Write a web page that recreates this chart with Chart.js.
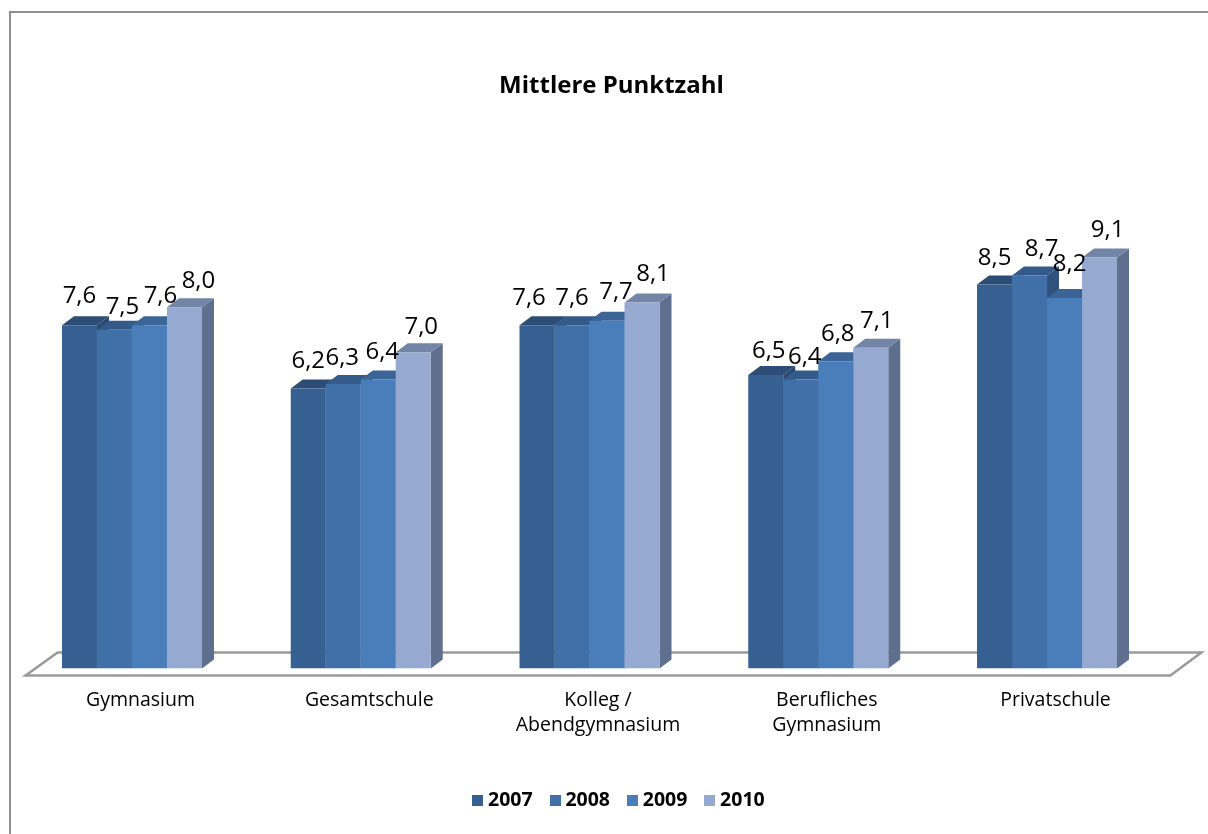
<!DOCTYPE html>
<html>
<head>
<meta charset="utf-8">
<style>html,body{margin:0;padding:0;background:#fff}canvas{display:block}</style>
<script src="https://cdn.jsdelivr.net/npm/chart.js@4"></script>
</head>
<body>
<canvas id="c" width="1208" height="834"></canvas>
<script>
const categories = ['Gymnasium','Gesamtschule',['Kolleg /','Abendgymnasium'],['Berufliches','Gymnasium'],'Privatschule'];
const seriesNames = ['2007','2008','2009','2010'];
const values2007 = [7.6,6.2,7.6,6.5,8.5];
const values2008 = [7.5,6.3,7.6,6.4,8.7];
const values2009 = [7.6,6.4,7.7,6.8,8.2];
const values2010 = [8.0,7.0,8.1,7.1,9.1];

const frontColors = ['#376092','#4170a8','#4a7ebb','#95a9d1'];
const topColors   = ['#2c4d75','#335a88','#3b6597','#7385a6'];
const sideColors  = ['#2a4a70','#30527c','#38608e','#5f6f8e'];
const labelShiftX = [[0,0,-8,3,0],[8,-1,0,4,12],[11,4,9,2,5],[14,8,11,6,8]];
const labelLift   = [[29,27,27,24,26],[23,26,27,22,26],[29,27,29,27,34],[26,25,28,27,27]];
const DEPTH_X = 12, DEPTH_Y = 9;
const FONT = '"Open Sans", "Noto Sans", sans-serif';

function legendBox(color){
  const b = document.createElement('canvas');
  b.width = 11; b.height = 11;
  const g = b.getContext('2d');
  g.fillStyle = color; g.fillRect(0,0,11,11);
  return b;
}

const framePlugin = {
  id:'frame',
  afterLayout(chart){
    chart.titleBlock.left += 22; chart.titleBlock.right += 22;
    chart.legend.left += 31.5; chart.legend.right += 31.5;
  },
  beforeDraw(chart){
    const g = chart.ctx;
    g.save();
    g.fillStyle = '#fff'; g.fillRect(0,0,chart.width,chart.height);
    g.strokeStyle = '#8e8e8e'; g.lineWidth = 2;
    g.beginPath(); g.moveTo(10,chart.height); g.lineTo(10,12); g.lineTo(chart.width,12); g.stroke();
    g.restore();
  }
};

const depthPlugin = {
  id:'depth',
  beforeDatasetsDraw(chart){
    const g = chart.ctx, a = chart.chartArea;
    g.save();
    g.strokeStyle = '#9a9a9a'; g.lineWidth = 2.5; g.lineJoin = 'miter';
    g.beginPath();
    g.moveTo(a.left+8, a.bottom+7);
    g.lineTo(a.right+9, a.bottom+7);
    g.lineTo(a.right+40, a.bottom-16);
    g.lineTo(a.left+40, a.bottom-16);
    g.closePath(); g.stroke();
    categories.forEach((_,ci)=>{
      chart.data.datasets.forEach((d,di)=>{
        const b = chart.getDatasetMeta(di).data[ci];
        const l = b.x - b.width/2, r = b.x + b.width/2, t = b.y, bt = b.base;
        g.fillStyle = sideColors[di];
        g.beginPath();
        g.moveTo(r,t); g.lineTo(r+DEPTH_X,t-DEPTH_Y); g.lineTo(r+DEPTH_X,bt-DEPTH_Y); g.lineTo(r,bt);
        g.closePath(); g.fill();
        g.fillStyle = topColors[di];
        g.beginPath();
        g.moveTo(l,t); g.lineTo(l+DEPTH_X,t-DEPTH_Y); g.lineTo(r+DEPTH_X,t-DEPTH_Y); g.lineTo(r,t);
        g.closePath(); g.fill();
      });
    });
    g.restore();
  },
  afterDatasetsDraw(chart){
    const g = chart.ctx;
    g.save();
    g.font = '24px ' + FONT; g.fillStyle = '#000';
    g.textAlign = 'center'; g.textBaseline = 'middle';
    chart.data.datasets.forEach((d,di)=>{
      chart.getDatasetMeta(di).data.forEach((b,ci)=>{
        g.fillText(d.data[ci].toFixed(1).replace('.',','), b.x+labelShiftX[di][ci], b.y-labelLift[di][ci]);
      });
    });
    g.restore();
  }
};

const seriesValues = [values2007,values2008,values2009,values2010];
new Chart(document.getElementById('c'),{
  type:'bar',
  data:{
    labels:categories,
    datasets:seriesNames.map((n,i)=>({
      label:n, data:seriesValues[i], backgroundColor:frontColors[i], borderWidth:0,
      categoryPercentage:0.612, barPercentage:1
    }))
  },
  plugins:[framePlugin,depthPlugin],
  options:{
    responsive:false, animation:false,
    layout:{padding:{left:17.6,right:46.6,top:0,bottom:14}},
    plugins:{
      tooltip:{enabled:false},
      title:{display:true,text:'Mittlere Punktzahl',color:'#000',
        font:{family:FONT,size:24,weight:'bold'},
        padding:{top:72,bottom:116}},
      legend:{position:'bottom',labels:{
        usePointStyle:true,pointStyleWidth:1,boxHeight:11,padding:22,color:'#000',
        font:{family:FONT,size:19.5,weight:'bold'},
        generateLabels(c){
          return c.data.datasets.map((d,i)=>({text:d.label,fillStyle:d.backgroundColor,lineWidth:0,
            strokeStyle:d.backgroundColor,pointStyle:legendBox(d.backgroundColor),datasetIndex:i,fontColor:'#000'}));
        }
      }}
    },
    scales:{
      x:{grid:{display:false},border:{display:false},
        ticks:{color:'#000',padding:11,labelOffset:8.5,maxRotation:0,autoSkip:false,font:{family:FONT,size:19.5,lineHeight:1.3}},
        afterFit(s){s.height=100;}},
      y:{display:false,min:0,max:10}
    }
  }
});
</script>
</body>
</html>
